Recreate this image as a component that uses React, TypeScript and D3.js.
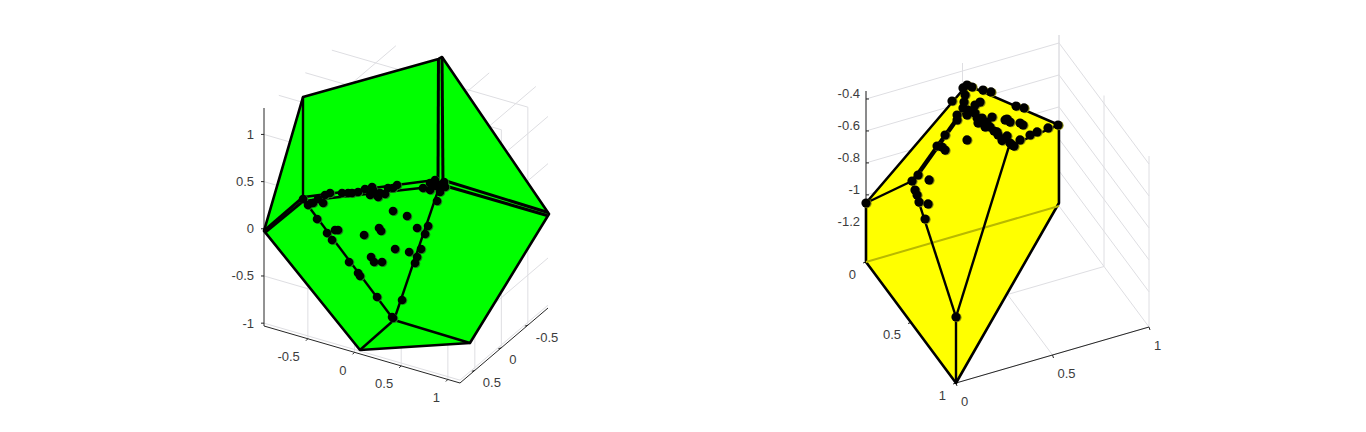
import React from 'react';
import * as d3 from 'd3';

// tick values
const greenXTicks = [-0.5, 0, 0.5, 1];
const greenYTicks = [-0.5, 0, 0.5];
const greenZTicks = [-1, -0.5, 0, 0.5, 1];
const yellowATicks = [0, 0.5, 1];
const yellowBTicks = [0, 0.5, 1];
const yellowZTicks = [-1.2, -1, -0.8, -0.6, -0.4];

// hull outlines and dots are given in the view plane:
// [distance right of the z axis, reading on the z axis], both in z-axis units
const greenOutline = [[0, -0.02], [0.415, 1.404], [1.856, 1.809], [1.894, 1.83], [3.032, 0.16], [2.191, -1.213], [1.021, -1.287]];
const greenEdges = [
  [[0.415, 1.404], [0.415, 0.319]],
  [[0.426, 0.34], [1.819, 0.521]],
  [[0.426, 0.298], [1.766, 0.447]],
  [[0.415, 0.319], [1.383, -0.968]],
  [[1.872, 0.468], [1.383, -0.968]],
  [[1.383, -0.968], [1.021, -1.287]],
  [[1.383, -0.968], [2.191, -1.213]],
];
// thin facets seen edge-on, two heavy lines with a sliver between them
const greenBands = [
  [[1.856, 1.809], [1.851, 0.489]],
  [[1.894, 1.83], [1.904, 0.489]],
  [[1.936, 0.511], [3.021, 0.176]],
  [[1.915, 0.463], [3.011, 0.144]],
  [[0, -0.02], [0.41, 0.335]],
  [[0.012, -0.035], [0.42, 0.3]],
];
const greenDots = [
  [1.372, 0.191], [1.521, 0.138], [1.223, 0.011], [1.245, -0.021], [1.064, -0.064], [0.787, -0.011], [0.755, -0.011],
  [1.394, -0.213], [1.543, -0.245], [1.628, 0.011], [1.138, -0.298], [1.17, -0.351], [1.255, -0.351],
  [0.415, 0.319], [0.521, 0.277], [0.628, 0.277], [0.649, 0.362], [0.702, 0.383], [0.83, 0.383], [0.894, 0.383],
  [1.0, 0.394], [1.128, 0.362], [1.16, 0.415], [1.234, 0.383], [1.319, 0.436], [1.415, 0.468], [1.149, 0.447],
  [1.191, 0.372], [1.691, 0.436], [1.766, 0.489], [1.872, 0.468], [1.819, 0.521], [1.872, 0.394], [1.915, 0.5], [1.83, 0.457],
  [0.936, 0.383], [1.074, 0.426], [1.213, 0.34], [1.287, 0.372], [1.372, 0.436], [1.926, 0.447], [1.766, 0.415], [0.574, 0.319], [0.468, 0.255],
  [1.84, 0.298], [1.745, 0.032], [1.713, -0.053], [1.67, -0.213], [1.628, -0.298], [1.606, -0.362], [1.468, -0.755], [1.372, -0.947],
  [0.564, 0.106], [0.67, -0.043], [0.723, -0.117], [0.904, -0.351], [1.0, -0.468], [1.021, -0.5], [1.202, -0.723], [1.362, -0.936],
];

const yellowOutline = [[0, -1.05], [0.631, -0.3125], [1.206, -0.5625], [1.206, -1.05], [0.5625, -2.175], [0, -1.419]];
const yellowEdges = [
  [[0, -1.05], [0.2875, -0.9125]],
  [[0.631, -0.3125], [0.6125, -0.456]],
  [[0.6125, -0.456], [0.894, -0.694]],
  [[0.894, -0.694], [1.206, -0.5625]],
  [[0.2875, -0.9125], [0.5625, -1.7625]],
  [[0.894, -0.694], [0.5625, -1.7625]],
  [[0.5625, -1.7625], [0.5625, -2.175]],
];
const yellowBands = [
  [[0.2875, -0.9125], [0.6125, -0.456]],
  [[0.294, -0.92], [0.619, -0.463]],
];
const yellowDots = [
  [0.631, -0.3125], [0.6625, -0.325], [0.606, -0.331], [0.731, -0.344], [0.781, -0.356], [0.9375, -0.444], [0.9875, -0.456],
  [1.2, -0.5625], [1.1375, -0.581], [1.069, -0.606], [1.025, -0.625], [0.9625, -0.656], [0.9, -0.675], [0.881, -0.631],
  [0.819, -0.606], [0.775, -0.575], [0.725, -0.519], [0.681, -0.4875], [0.6375, -0.469], [0.606, -0.456], [0.619, -0.375],
  [0.6125, -0.419], [0.7125, -0.419], [0.681, -0.4375], [0.7875, -0.5125], [0.756, -0.544], [0.881, -0.525], [0.9, -0.544],
  [0.869, -0.531], [0.981, -0.5625], [0.9625, -0.55], [0.5375, -0.4125], [0.569, -0.531], [0.494, -0.625], [0.444, -0.694],
  [0.494, -0.719], [0.475, -0.7], [0.631, -0.656], [0.394, -0.906], [0.325, -0.875], [0.2875, -0.9125], [0.306, -0.969],
  [0.319, -1.0], [0.331, -1.044], [0.3875, -1.056], [0.369, -1.15], [0.5625, -1.7625], [0, -1.05], [0.825, -0.625],
  [0.9125, -0.6875], [0.694, -0.519], [0.65, -0.481], [0.744, -0.575], [0.8, -0.6], [0.856, -0.65], [0.925, -0.694],
  [0.85, -0.66], [0.569, -0.5], [0.631, -0.5], [0.7, -0.55], [0.7375, -0.55],
];

const GRID = '#dedee2';
const INK = '#3c3c3c';
const FONT = 'Arial, "Liberation Sans", sans-serif';

type Axis = { domain: number[]; vec: number[]; ticks: number[] };
type Spine = { along: number; fixed: number[]; tick: number[]; labelDx: number; labelDy: number; anchor: string };

const Panel = ({ origin, axes, planes, spines, outline, edges, bands, dots, dotSize, fill, shade, viewX, viewZ, extra }: any) => {
  const fracs = axes.map((a: Axis) => d3.scaleLinear().domain(a.domain).range([0, 1]));
  const project = (p: number[]) => {
    let x = origin[0];
    let y = origin[1];
    p.forEach((v, i) => {
      x += fracs[i](v) * axes[i].vec[0];
      y += fracs[i](v) * axes[i].vec[1];
    });
    return [x, y];
  };

  // grid lines on each visible plane of the box
  const gridLines: number[][][] = [];
  planes.forEach((pl: { axis: number; at: number }) => {
    const others = [0, 1, 2].filter((i) => i !== pl.axis);
    others.forEach((i, k) => {
      const j = others[1 - k];
      axes[i].ticks.forEach((t: number) => {
        const a = [0, 0, 0];
        a[pl.axis] = pl.at;
        a[i] = t;
        a[j] = axes[j].domain[0];
        const b = [...a];
        b[j] = axes[j].domain[1];
        gridLines.push([project(a), project(b)]);
      });
    });
  });

  const line = d3.line<number[]>().x((d) => viewX(d[0])).y((d) => viewZ(d[1]));
  const plain = d3.line();

  return (
    <g>
      {gridLines.map((l, i) => (
        <path key={i} d={plain(l as any) as string} stroke={GRID} strokeWidth={1} fill="none" />
      ))}
      {spines.map((s: Spine, i: number) => {
        const pt = (v: number) => {
          const p = [...s.fixed];
          p[s.along] = v;
          return project(p);
        };
        const ax = axes[s.along];
        return (
          <g key={i}>
            <path d={plain([pt(ax.domain[0]), pt(ax.domain[1])] as any) as string} stroke="#262626" strokeWidth={1} fill="none" />
            {ax.ticks.map((t: number) => {
              const [x, y] = pt(t);
              return (
                <g key={t}>
                  <line x1={x} y1={y} x2={x + s.tick[0]} y2={y + s.tick[1]} stroke="#262626" strokeWidth={1} />
                  <text x={x + s.labelDx} y={y + s.labelDy} textAnchor={s.anchor} dominantBaseline="central" fontSize={13} fontFamily={FONT} fill={INK}>
                    {t}
                  </text>
                </g>
              );
            })}
          </g>
        );
      })}
      <path d={(line(outline) as string) + 'Z'} fill={fill} stroke="#000" strokeWidth={2.6} strokeLinejoin="round" />
      {extra && extra.map((seg: number[][], i: number) => (
        <path key={i} d={plain(seg.map(project) as any) as string} stroke={d3.color(fill)!.darker(0.9).formatHex()} strokeWidth={2} fill="none" />
      ))}
      {edges.map((e: number[][], i: number) => (
        <path key={i} d={line(e) as string} stroke="#000" strokeWidth={2.4} fill="none" />
      ))}
      {bands.map((e: number[][], i: number) => (
        <path key={i} d={line(e) as string} stroke="#000" strokeWidth={3} fill="none" />
      ))}
      {dots.map((d: number[], i: number) => (
        <circle key={'s' + i} cx={viewX(d[0]) + 1} cy={viewZ(d[1]) + 0.6} r={dotSize} fill={shade} />
      ))}
      {dots.map((d: number[], i: number) => (
        <circle key={'d' + i} cx={viewX(d[0])} cy={viewZ(d[1])} r={dotSize} fill="#000" />
      ))}
    </g>
  );
};

export default function App() {
  const greenViewX = d3.scaleLinear().domain([0, 1]).range([264, 358]);
  const greenViewZ = d3.scaleLinear().domain([-1, 1]).range([323, 135]);
  const yellowViewX = d3.scaleLinear().domain([0, 1]).range([866, 1026]);
  const yellowViewZ = d3.scaleLinear().domain([-1.2, -0.4]).range([227, 99]);

  const greenAxes = [
    { domain: [-0.97, 1.13], vec: [196, 57], ticks: greenXTicks },
    { domain: [0.78, -0.88], vec: [88, -75], ticks: greenYTicks },
    { domain: [-1.03, 1.28], vec: [0, -218], ticks: greenZTicks },
  ];
  const yellowAxes = [
    { domain: [0, 1], vec: [90, 121], ticks: yellowATicks },
    { domain: [0, 1], vec: [193, -56], ticks: yellowBTicks },
    { domain: [-1.42, -0.35], vec: [0, -171], ticks: yellowZTicks },
  ];

  return (
    <svg width={1366} height={432} style={{ position: 'absolute', left: 0, top: 0, background: '#fff' }}>
      <Panel
        origin={[264, 326]}
        axes={greenAxes}
        planes={[
          { axis: 1, at: 0.78 },
          { axis: 0, at: 1.13 },
          { axis: 2, at: 1.28 },
        ]}
        spines={[
          { along: 0, fixed: [0, 0.78, -1.03], tick: [-2, 2], labelDx: -8, labelDy: 18, anchor: 'end' },
          { along: 1, fixed: [1.13, 0, -1.03], tick: [-3, 1], labelDx: 8, labelDy: 12, anchor: 'start' },
          { along: 2, fixed: [-0.97, 0.78, 0], tick: [-3, 0], labelDx: -10, labelDy: 0, anchor: 'end' },
        ]}
        outline={greenOutline}
        edges={greenEdges}
        bands={greenBands}
        dots={greenDots}
        dotSize={4.3}
        fill="#00ff00"
        shade="#1f7a1f"
        viewX={greenViewX}
        viewZ={greenViewZ}
      />
      <Panel
        origin={[866, 262]}
        axes={yellowAxes}
        planes={[
          { axis: 0, at: 0 },
          { axis: 1, at: 1 },
          { axis: 2, at: -1.42 },
        ]}
        spines={[
          { along: 0, fixed: [0, 0, -1.42], tick: [-3, 1], labelDx: -10, labelDy: 12, anchor: 'end' },
          { along: 1, fixed: [1, 0, -1.42], tick: [1, 3], labelDx: 5, labelDy: 18, anchor: 'start' },
          { along: 2, fixed: [0, 0, 0], tick: [3, 0], labelDx: -6, labelDy: -5, anchor: 'end' },
        ]}
        outline={yellowOutline}
        edges={yellowEdges}
        bands={yellowBands}
        dots={yellowDots}
        dotSize={4.6}
        fill="#ffff00"
        shade="#8a8a10"
        viewX={yellowViewX}
        viewZ={yellowViewZ}
        extra={[[[0, 0, -1.42], [0, 1, -1.42]]]}
      />
    </svg>
  );
}
